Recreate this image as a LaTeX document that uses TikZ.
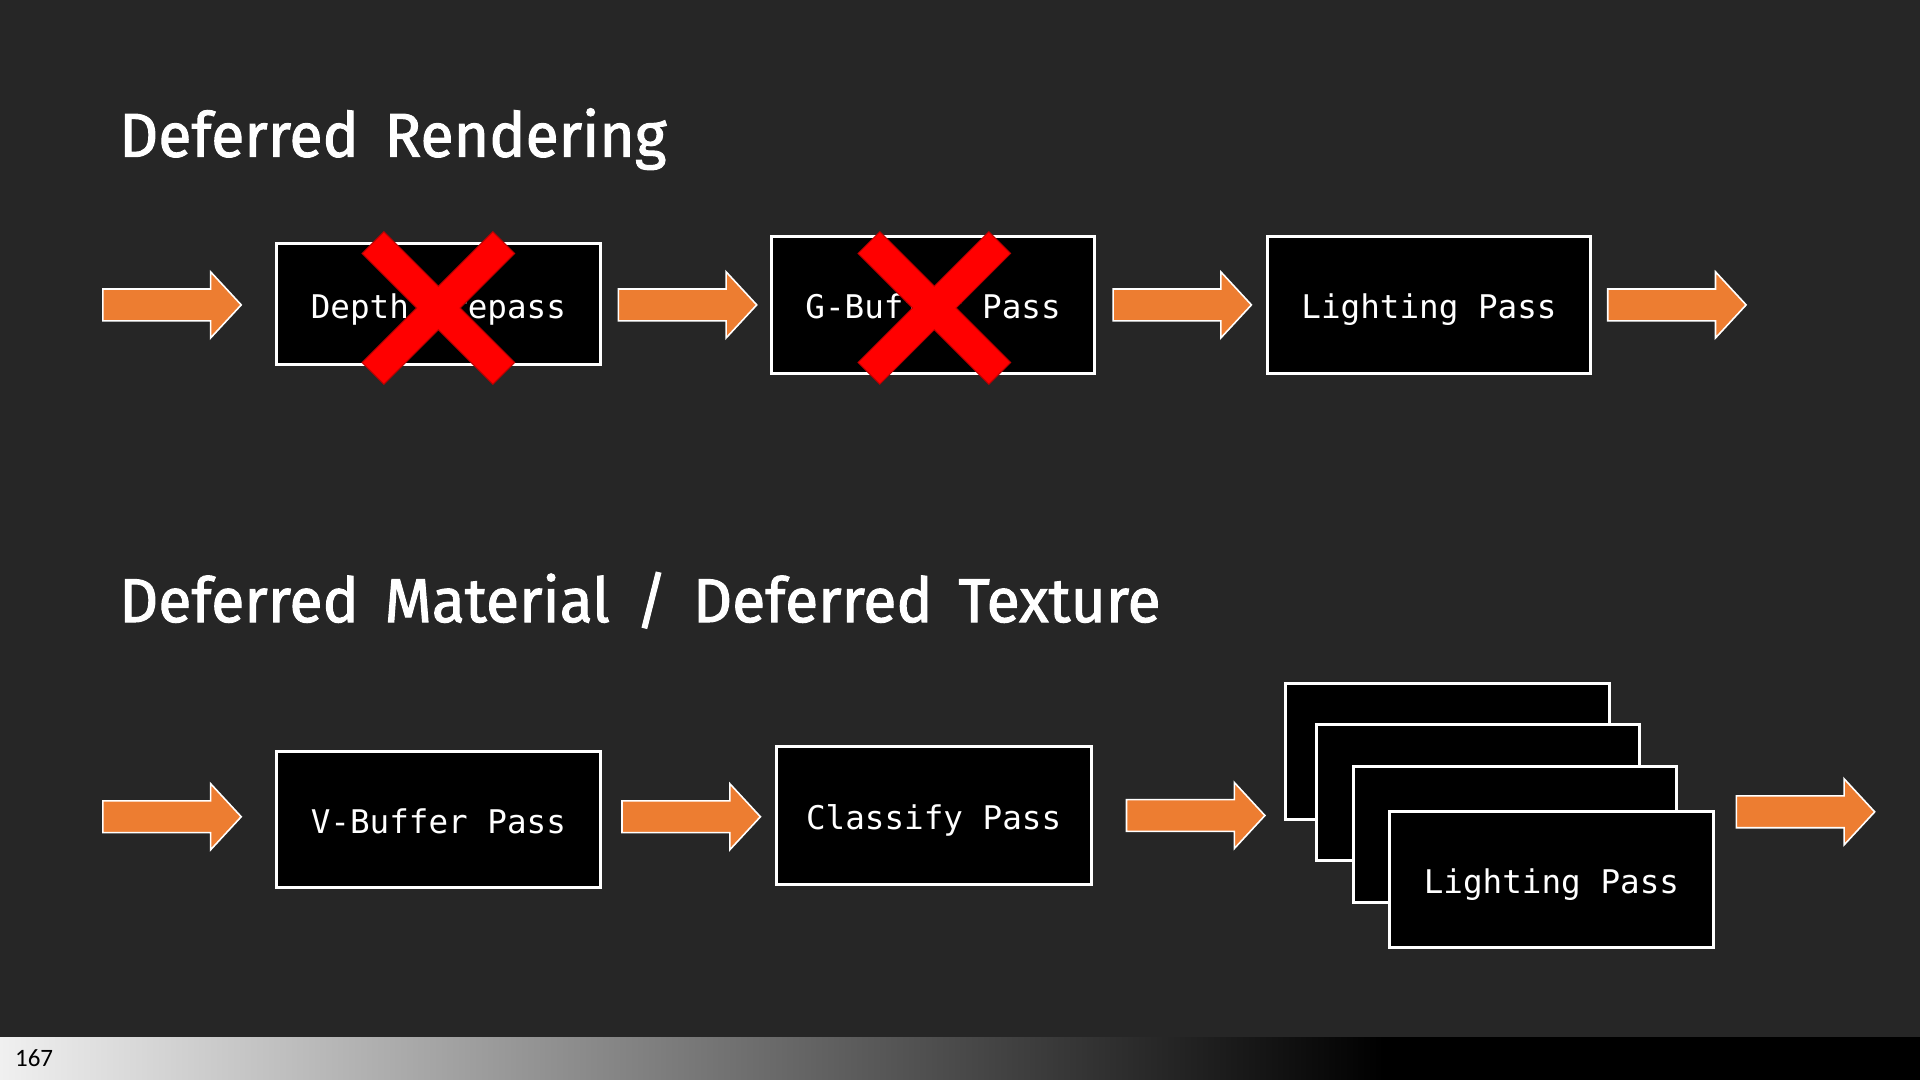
\documentclass[tikz,border=0pt]{standalone}
\usepackage{fontspec}
\newfontfamily\titlefont[FakeBold=1.6,FakeStretch=0.98,WordSpace=1.6]{Fira Sans}
\newfontfamily\passfont{DejaVu Sans Mono}
\newfontfamily\pagefont{Carlito}

\definecolor{slidebg}{RGB}{38,38,38}
\definecolor{floworange}{RGB}{237,125,49}
\definecolor{xred}{RGB}{255,0,0}
\definecolor{xdark}{RGB}{192,0,0}
\definecolor{barlight}{RGB}{240,240,240}

% one unit = one pixel of a 1568 wide slide
\def\pxu{0.6122pt}

% block arrow, left end at (#1,#2)
\newcommand\flowarrow[2]{\draw[flow] (#1,#2) ++(0,-13) -- ++(88,0) -- ++(0,-14)
  -- ++(25,27) -- ++(-25,27) -- ++(0,-14) -- ++(-88,0) -- cycle;}
% red cross centred on a coordinate
\newcommand\crossout[1]{%
  \draw[xedge] (#1) ++(-53,-53) -- ++(106,106);
  \draw[xedge] (#1) ++(53,-53) -- ++(-106,106);
  \draw[xbar] (#1) ++(-53,-53) -- ++(106,106);
  \draw[xbar] (#1) ++(53,-53) -- ++(-106,106);}

\tikzset{
  pass/.style={draw=white,line width=1.5pt,fill=black,text=white,inner sep=0pt,
    font=\passfont\fontsize{16.3}{19}\selectfont,text height=13.9pt,text depth=0pt,
    minimum width=264*\pxu,minimum height=112*\pxu},
  title/.style={text=white,inner sep=0pt,anchor=base west,
    font=\titlefont\fontsize{31}{36}\selectfont},
  flow/.style={fill=floworange,draw=white,line width=0.8pt,line join=miter},
  xedge/.style={draw=xdark,line width=15.9pt,shorten <=-0.6pt,shorten >=-0.6pt},
  xbar/.style={draw=xred,line width=14.7pt},
  pagenum/.style={text=black,inner sep=0pt,anchor=base west,
    font=\pagefont\fontsize{12.5}{15}\selectfont}
}

\begin{document}
\begin{tikzpicture}[x=\pxu,y=-\pxu]
\fill[slidebg] (0,0) rectangle (1568,882);
\useasboundingbox (0,0) rectangle (1568,882);

% deferred rendering
\node[title] (title1) at (97,128) {Deferred Rendering};
\node[pass,minimum height=99*\pxu] (depth) at (358,248.5) {Depth Prepass};
\node[pass] (gbuf) at (762,249) {G-Buffer Pass};
\node[pass] (light1) at (1167,249) {Lighting Pass};
\coordinate (cut1) at (358,251.5);
\coordinate (cut2) at (763,251.5);
\crossout{cut1}
\crossout{cut2}
\flowarrow{84}{249}
\flowarrow{505}{249}
\flowarrow{909}{249}
\flowarrow{1313}{249}

% deferred material / texture
\node[title] (title2) at (97,508) {Deferred Material / Deferred Texture};
\node[pass,minimum height=111*\pxu] (vbuf) at (358,669.5) {V-Buffer Pass};
\node[pass,minimum width=257*\pxu] (classify) at (762.5,666) {Classify Pass};
\node[pass,minimum height=111*\pxu] (light2a) at (1182,613.5) {};
\node[pass,minimum height=111*\pxu] (light2b) at (1207,647.5) {};
\node[pass,minimum height=111*\pxu] (light2c) at (1237,681.5) {};
\node[pass,minimum height=111*\pxu] (light2) at (1267,718.5) {Lighting Pass};
\flowarrow{84}{667}
\flowarrow{508}{667}
\flowarrow{920}{666}
\flowarrow{1418}{663}

% page bar
\fill[left color=barlight,right color=black] (0,847) rectangle (1130,882);
\fill[black] (1130,847) rectangle (1568,882);
\node[pagenum] (page) at (12,871) {167};
\end{tikzpicture}
\end{document}
